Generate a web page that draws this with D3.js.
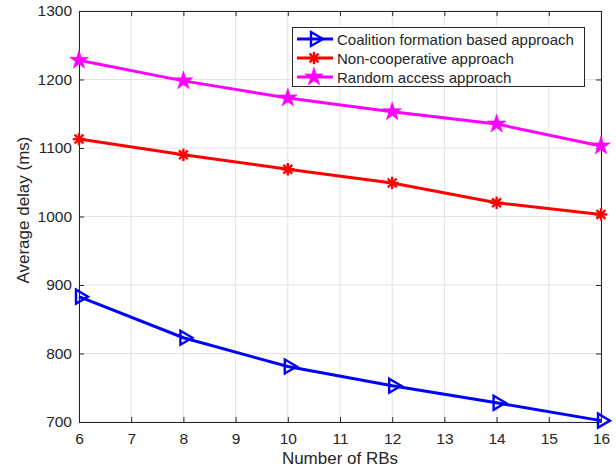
<!DOCTYPE html>
<html><head><meta charset="utf-8">
<script src="https://cdn.jsdelivr.net/npm/d3@7"></script>
<style>body{margin:0;background:#fff}svg{display:block}text{font-family:"Liberation Sans",Arial,sans-serif;fill:#262626}</style>
</head><body><svg id="c" width="616" height="472"></svg>
<script>
const xTicks = [6,7,8,9,10,11,12,13,14,15,16];
const yTicks = [700,800,900,1000,1100,1200,1300];
const rbs = [6,8,10,12,14,16];
const coalition = [883,823,781,753,728,702];
const noncoop = [1113,1090,1069,1049,1020,1003];
const randomAccess = [1228,1198,1173,1153,1135,1103];
const seriesNames = ["Coalition formation based approach","Non-cooperative approach","Random access approach"];

const svg = d3.select("#c");
const L=79,R=601,T=11,B=422;
const x = d3.scaleLinear().domain([6,16]).range([L,R]);
const y = d3.scaleLinear().domain([700,1300]).range([B,T]);

const g = svg.append("g");
g.selectAll(".gx").data(xTicks).enter().append("line").attr("x1",d=>x(d)).attr("x2",d=>x(d)).attr("y1",T).attr("y2",B).attr("stroke","#e3e3e3").attr("stroke-width",1);
g.selectAll(".gy").data(yTicks).enter().append("line").attr("y1",d=>y(d)).attr("y2",d=>y(d)).attr("x1",L).attr("x2",R).attr("stroke","#e3e3e3").attr("stroke-width",1);

const fmt = d3.format("d");
const ax = d3.axisBottom(x).tickValues(xTicks).tickFormat(fmt).tickSizeInner(-5).tickSizeOuter(0).tickPadding(11);
const ay = d3.axisLeft(y).tickValues(yTicks).tickFormat(fmt).tickSizeInner(-5).tickSizeOuter(0).tickPadding(7);
const axT = d3.axisTop(x).tickValues(xTicks).tickSizeInner(-5).tickSizeOuter(0).tickFormat("");
const ayR = d3.axisRight(y).tickValues(yTicks).tickSizeInner(-5).tickSizeOuter(0).tickFormat("");
function style(s){s.selectAll("path,line").attr("stroke","#262626");s.selectAll("text").attr("font-size","15.5px").attr("fill","#262626").attr("font-family","Liberation Sans, Arial, sans-serif");}
svg.append("g").attr("transform",`translate(0,${B})`).call(ax).call(style);
svg.append("g").attr("transform",`translate(${L},0)`).call(ay).call(style);
svg.append("g").attr("transform",`translate(0,${T})`).call(axT).call(style);
svg.append("g").attr("transform",`translate(${R},0)`).call(ayR).call(style);

svg.append("text").attr("x",340).attr("y",464).attr("text-anchor","middle").attr("font-size","17px").text("Number of RBs");
svg.append("text").attr("transform",`translate(29,210) rotate(-90)`).attr("text-anchor","middle").attr("font-size","17px").text("Average delay (ms)");

function triPath(){return `M-3,-7L9,0L-3,7Z`;}
function asterisk(gm,s,color){const r=s/2;for(const a of [0,45,90,135]){const t=a*Math.PI/180;gm.append("line").attr("x1",-r*Math.cos(t)).attr("y1",-r*Math.sin(t)).attr("x2",r*Math.cos(t)).attr("y2",r*Math.sin(t)).attr("stroke",color).attr("stroke-width",2.4);}}
function starPath(R0){const r=R0*0.38;let p="";for(let i=0;i<10;i++){const rr=i%2?r:R0;const a=-Math.PI/2+i*Math.PI/5;p+=(i?"L":"M")+(rr*Math.cos(a)).toFixed(2)+","+(rr*Math.sin(a)).toFixed(2);}return p+"Z";}

const series = [
  {vals:coalition,color:"#0000ff",mk:"tri"},
  {vals:noncoop,color:"#ff0000",mk:"ast"},
  {vals:randomAccess,color:"#ff00ff",mk:"star"}
];
const line = d3.line().x((d,i)=>x(rbs[i])).y(d=>y(d));
function drawMarker(gm,mk,color){
  if(mk==="tri") gm.append("path").attr("d",triPath()).attr("fill","none").attr("stroke",color).attr("stroke-width",2.4);
  else if(mk==="ast") asterisk(gm,12.5,color);
  else gm.append("path").attr("d",starPath(9.8)).attr("fill",color).attr("stroke",color).attr("stroke-width",0.6);
}
series.forEach(s=>{
  svg.append("path").datum(s.vals).attr("d",line).attr("fill","none").attr("stroke",s.color).attr("stroke-width",3);
  s.vals.forEach((v,i)=>{const gm=svg.append("g").attr("transform",`translate(${x(rbs[i])},${y(v)})`);drawMarker(gm,s.mk,s.color);});
});

const lg = svg.append("g");
lg.append("rect").attr("x",292.5).attr("y",27.5).attr("width",292).attr("height",59).attr("fill","#fff").attr("stroke","#262626").attr("stroke-width",1);
seriesNames.forEach((n,i)=>{
  const yy=39+i*19;
  lg.append("line").attr("x1",297).attr("x2",333).attr("y1",yy).attr("y2",yy).attr("stroke",series[i].color).attr("stroke-width",3);
  const gm=lg.append("g").attr("transform",`translate(314,${yy})`);drawMarker(gm,series[i].mk,series[i].color);
  lg.append("text").attr("x",337).attr("y",yy+5.5).attr("font-size","15px").attr("fill","#000").text(n);
});
</script></body></html>
